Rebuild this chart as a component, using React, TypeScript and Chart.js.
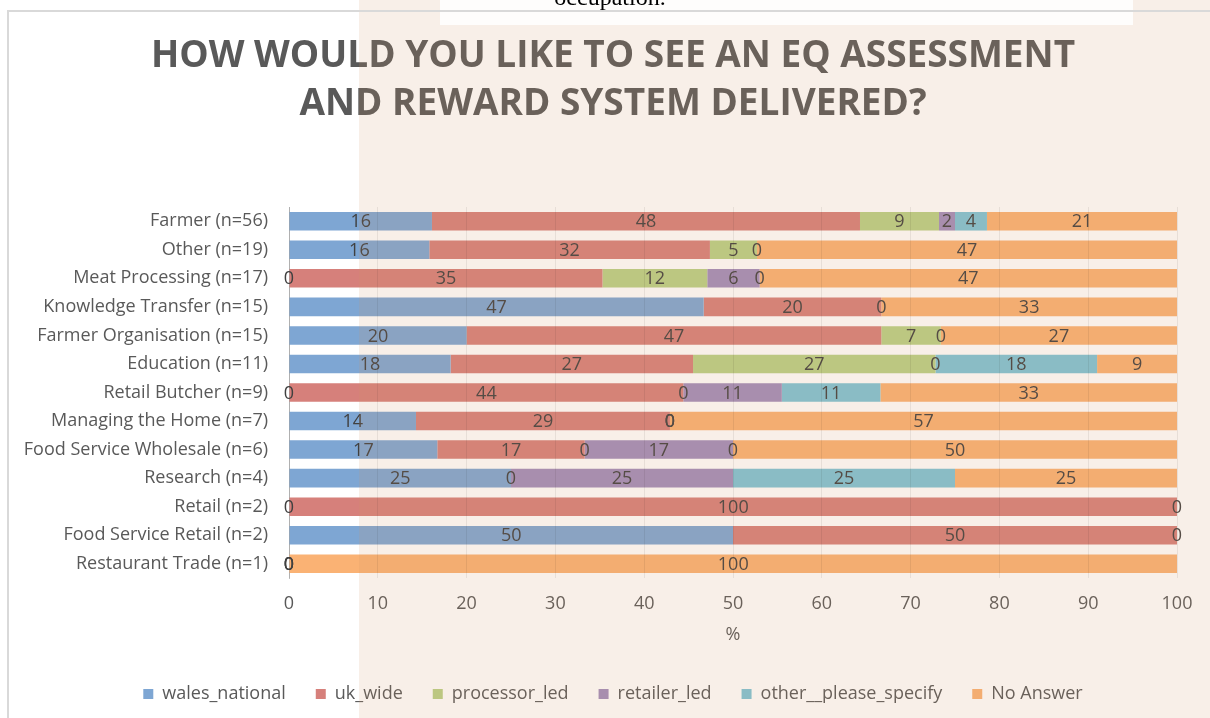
import React, { useEffect, useRef } from "react";
import { Chart, registerables } from "chart.js";

Chart.register(...registerables);

const categories = [
  "Farmer (n=56)",
  "Other (n=19)",
  "Meat Processing (n=17)",
  "Knowledge Transfer (n=15)",
  "Farmer Organisation (n=15)",
  "Education (n=11)",
  "Retail Butcher (n=9)",
  "Managing the Home (n=7)",
  "Food Service Wholesale (n=6)",
  "Research (n=4)",
  "Retail (n=2)",
  "Food Service Retail (n=2)",
  "Restaurant Trade (n=1)",
];

const walesNational = [16.1, 15.8, 0, 46.7, 20, 18.2, 0, 14.3, 16.7, 25, 0, 50, 0];
const ukWide = [48.2, 31.6, 35.3, 20, 46.7, 27.3, 44.4, 28.6, 16.6, 0, 100, 50, 0];
const processorLed = [8.9, 5.3, 11.8, 0, 6.7, 27.3, 0, 0, 0, null, null, null, 0];
const retailerLed = [1.8, 0, 5.9, null, 0, 0, 11.1, 0, 16.7, 25, null, null, null];
const otherPleaseSpecify = [3.6, null, 0, null, null, 18.2, 11.1, 0, 0, 25, null, null, null];
const noAnswer = [21.4, 47.3, 47.0, 33.3, 26.6, 9.0, 33.4, 57.1, 50, 25, 0, 0, 100];

const seriesNames = [
  "wales_national",
  "uk_wide",
  "processor_led",
  "retailer_led",
  "other__please_specify",
  "No Answer",
];
const seriesColors = ["#7ea6d3", "#d6807b", "#b9d086", "#a28ebb", "#7ec4d6", "#fab274"];

const titleLines = ["HOW WOULD YOU LIKE TO SEE AN EQ ASSESSMENT", "AND REWARD SYSTEM DELIVERED?"];
const xTicks = [0, 10, 20, 30, 40, 50, 60, 70, 80, 90, 100];

const FONT = '"Open Sans", "DejaVu Sans", sans-serif';

const segLabels = {
  id: "segLabels",
  afterDatasetsDraw(chart: any) {
    const ctx = chart.ctx;
    ctx.save();
    ctx.font = `18px ${FONT}`;
    ctx.fillStyle = "#404040";
    ctx.textAlign = "center";
    ctx.textBaseline = "middle";
    chart.data.datasets.forEach((ds: any, i: number) => {
      const meta = chart.getDatasetMeta(i);
      ds.data.forEach((v: any, j: number) => {
        if (v === null || v === undefined) return;
        const el = meta.data[j];
        if (!el) return;
        const p = el.getProps(["x", "base", "y"], true);
        ctx.fillText(String(Math.round(v)), (p.x + p.base) / 2, p.y + 1);
      });
    });
    ctx.restore();
  },
};

export default function App() {
  const ref = useRef<HTMLCanvasElement | null>(null);

  useEffect(() => {
    if (!ref.current) return;
    const series = [walesNational, ukWide, processorLed, retailerLed, otherPleaseSpecify, noAnswer];
    const chart = new Chart(ref.current, {
      type: "bar",
      data: {
        labels: categories,
        datasets: series.map((d, i) => ({
          label: seriesNames[i],
          data: d as any,
          backgroundColor: seriesColors[i],
          borderWidth: 0,
          barPercentage: 0.65,
          categoryPercentage: 1,
          xAxisID: "x",
          yAxisID: "y",
        })),
      },
      options: {
        indexAxis: "y",
        animation: false,
        responsive: false,
        layout: { padding: { left: 16, right: 0, top: 0, bottom: 0 } },
        scales: {
          x: {
            stacked: true,
            min: 0,
            max: 100,
            afterBuildTicks: (s: any) => {
              s.ticks = xTicks.map((v) => ({ value: v }));
            },
            ticks: { color: "#595959", font: { size: 18, family: FONT }, padding: 15 },
            grid: { color: "rgba(0,0,0,0.08)", drawTicks: false, z: 1 } as any,
            border: { display: false },
            title: {
              display: true,
              text: "%",
              color: "#595959",
              font: { size: 18, family: FONT },
              padding: { top: 0, bottom: 9 },
            },
            afterFit: (s: any) => {
              s.height = 77;
            },
          },
          y: {
            stacked: true,
            position: "left",
            grid: { display: false, drawTicks: false },
            border: { display: true, color: "#bfbfbf", width: 1 },
            ticks: { color: "#595959", font: { size: 18, family: FONT }, padding: 21, autoSkip: false },
            afterFit: (s: any) => {
              s.width = 273;
            },
          },
          yRight: {
            type: "category",
            position: "right",
            grid: { display: false, drawTicks: false },
            border: { display: false },
            ticks: { display: false },
            afterFit: (s: any) => {
              s.width = 33;
            },
          },
        },
        plugins: {
          title: {
            display: true,
            text: titleLines,
            color: "#595959",
            font: { size: 37, weight: "bold", family: FONT, lineHeight: "48px" } as any,
            padding: { top: 32, bottom: 79 },
          },
          legend: {
            position: "bottom",
            labels: {
              boxWidth: 10,
              boxHeight: 10,
              padding: 30,
              color: "#595959",
              font: { size: 18, family: FONT },
            },
          },
          tooltip: { enabled: false },
        },
      } as any,
      plugins: [segLabels],
    });
    return () => chart.destroy();
  }, []);

  return (
    <div
      style={{
        position: "fixed",
        left: 0,
        top: 0,
        width: 1210,
        height: 718,
        overflow: "hidden",
        background: "#ffffff",
      }}
    >
      <canvas ref={ref} width={1210} height={713} style={{ display: "block", position: "absolute", left: 0, top: 0 }} />
      <div
        style={{
          position: "absolute",
          left: 359,
          top: 0,
          width: 851,
          height: 718,
          background: "rgba(210,150,100,0.15)",
          pointerEvents: "none",
        }}
      />
      <div
        style={{
          position: "absolute",
          left: 440,
          top: 0,
          width: 693,
          height: 25,
          background: "rgba(255,255,255,0.85)",
          pointerEvents: "none",
        }}
      />
      <div
        style={{
          position: "absolute",
          left: 7,
          top: 10,
          width: 1203,
          height: 2,
          background: "#d9d9d9",
          pointerEvents: "none",
        }}
      />
      <div
        style={{
          position: "absolute",
          left: 7,
          top: 10,
          width: 2,
          height: 708,
          background: "#d9d9d9",
          pointerEvents: "none",
        }}
      />
      <div
        style={{
          position: "absolute",
          left: 410,
          width: 400,
          top: -15,
          textAlign: "center",
          fontFamily: '"Liberation Serif", serif',
          fontSize: 24,
          lineHeight: "24px",
          color: "#000",
          pointerEvents: "none",
        }}
      >
        occupation.
      </div>
    </div>
  );
}
